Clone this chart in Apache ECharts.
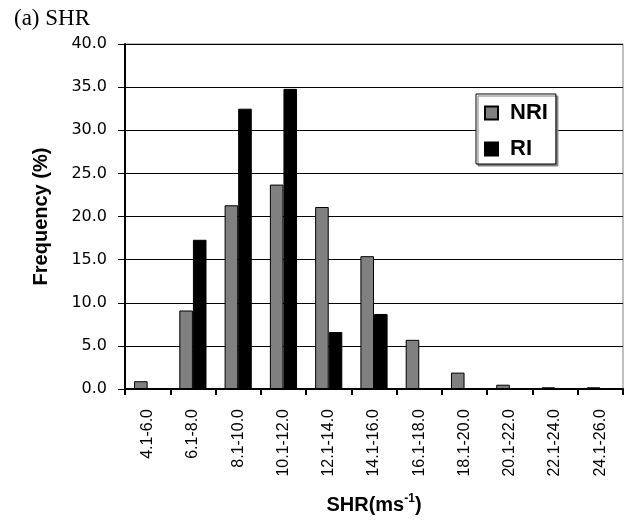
<!DOCTYPE html>
<html>
<head>
<meta charset="utf-8">
<script src="https://cdn.jsdelivr.net/npm/echarts@6/dist/echarts.min.js"></script>
<style>html,body{margin:0;padding:0;background:#fff}#c{width:624px;height:520px}</style>
</head>
<body>
<div id="c"></div>
<script>
var categories = ['4.1-6.0','6.1-8.0','8.1-10.0','10.1-12.0','12.1-14.0','14.1-16.0','16.1-18.0','18.1-20.0','20.1-22.0','22.1-24.0','24.1-26.0'];
var nriValues = [0.9, 9.1, 21.3, 23.7, 21.1, 15.4, 5.7, 1.9, 0.5, 0.2, 0.2];
var riValues  = [0, 17.3, 32.5, 34.8, 6.6, 8.7, 0, 0, 0, 0, 0];
var seriesNames = ['NRI', 'RI'];
var yMin = 0, yMax = 40, yStep = 5;

var chart = echarts.init(document.getElementById('c'), null, {renderer: 'canvas'});
chart.setOption({
  animation: false,
  backgroundColor: '#fff',
  title: {
    text: '(a) SHR', left: 9, top: 2,
    textStyle: {fontFamily: 'Liberation Serif', fontSize: 23, fontWeight: 'normal', color: '#000'}
  },
  grid: {left: 125, right: 1, top: 44, bottom: 128, show: true, borderColor: '#808080', borderWidth: 1},
  legend: {
    left: 476, top: 94, orient: 'vertical',
    data: seriesNames,
    backgroundColor: '#fff', borderColor: '#000', borderWidth: 1,
    shadowColor: '#808080', shadowOffsetX: 2, shadowOffsetY: 2, shadowBlur: 0,
    padding: [8, 8, 4, 8], itemGap: 14, itemWidth: 13, itemHeight: 13,
    icon: 'rect',
    textStyle: {fontFamily: 'Liberation Sans', fontWeight: 'bold', fontSize: 22, color: '#000', padding: [0, 0, 0, 7]}
  },
  xAxis: {
    type: 'category', data: categories,
    axisLine: {lineStyle: {color: '#000', width: 2}},
    axisTick: {show: true, length: 6, lineStyle: {color: '#000', width: 2}},
    axisLabel: {rotate: 90, margin: 20, fontFamily: 'Liberation Sans', fontSize: 16, color: '#000', interval: 0},
    name: '{a|SHR(ms}{b|-1}{a|)}', nameLocation: 'middle', nameGap: 104,
    nameTextStyle: {
      rich: {
        a: {fontFamily: 'Liberation Sans', fontWeight: 'bold', fontSize: 20, color: '#000', verticalAlign: 'bottom', lineHeight: 22},
        b: {fontFamily: 'Liberation Sans', fontWeight: 'bold', fontSize: 12, color: '#000', verticalAlign: 'top', lineHeight: 22}
      }
    }
  },
  yAxis: {
    type: 'value', min: yMin, max: yMax, interval: yStep,
    axisLine: {show: true, lineStyle: {color: '#000', width: 2}},
    axisTick: {show: true, length: 7, lineStyle: {color: '#000', width: 1}},
    axisLabel: {margin: 18, fontFamily: 'DejaVu Sans', fontSize: 16, color: '#000', formatter: function (v) { return v.toFixed(1); }},
    splitLine: {show: true, lineStyle: {color: '#000', width: 1}},
    name: 'Frequency (%)', nameLocation: 'middle', nameGap: 74,
    nameTextStyle: {fontFamily: 'Liberation Sans', fontWeight: 'bold', fontSize: 20, color: '#000'}
  },
  series: [
    {
      name: seriesNames[0], type: 'bar', data: nriValues,
      barGap: '0%', barCategoryGap: '40%',
      itemStyle: {color: '#808080', borderColor: '#000', borderWidth: 1}
    },
    {
      name: seriesNames[1], type: 'bar', data: riValues,
      barGap: '0%', barCategoryGap: '40%',
      itemStyle: {color: '#000', borderColor: '#000', borderWidth: 1}
    }
  ]
});
</script>
</body>
</html>
